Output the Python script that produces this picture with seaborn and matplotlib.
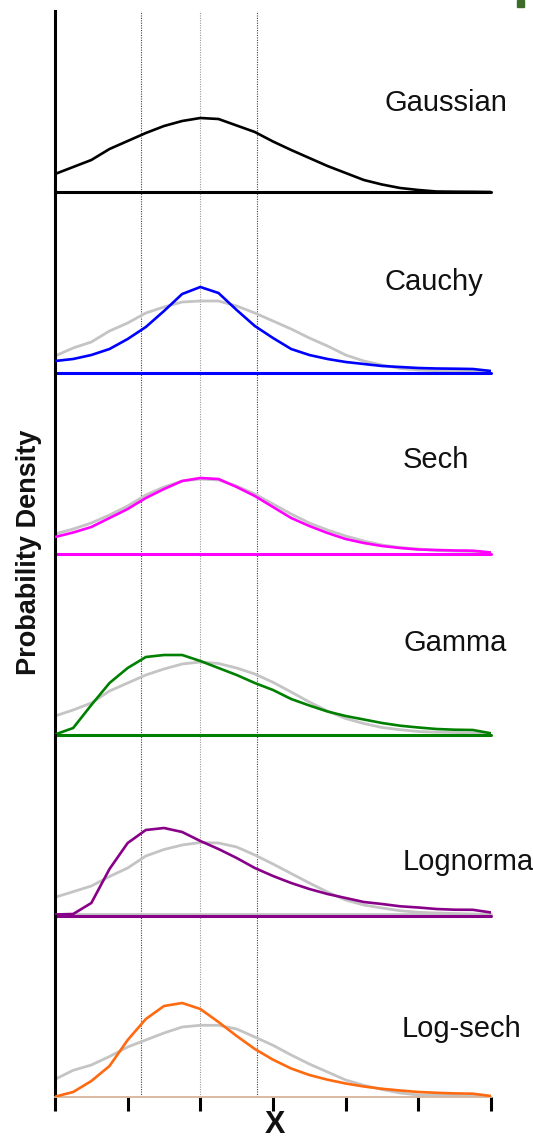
import matplotlib
matplotlib.use("Agg")
import matplotlib.pyplot as plt
from matplotlib.patches import Rectangle
import seaborn as sns

# Sample positions along X (tick units 0..6)
x = [0.0, 0.25, 0.5, 0.75, 1.0, 1.25, 1.5, 1.75, 2.0, 2.25, 2.5, 2.75, 3.0,
     3.25, 3.5, 3.75, 4.0, 4.25, 4.5, 4.75, 5.0, 5.25, 5.5, 5.75, 6.0]

names = ["Gaussian", "Cauchy", "Sech", "Gamma", "Lognormal", "Log-sech"]

gaussian = [18, 25, 32, 43, 51, 59, 66, 71, 74, 73, 66.5, 60, 50.5,
            42, 34, 26, 19, 12, 7.5, 4, 2, 0.5, 0.3, 0.2, 0]
cauchy = [12, 14, 18, 24, 34, 46, 62, 79, 86, 80, 63, 47, 35,
          24, 18, 14, 11, 9, 7, 6, 5, 4.5, 4.3, 4, 2]
sech = [17, 21.5, 27, 36, 45, 56, 65, 73, 76, 75, 67, 58, 47,
        36, 28, 21, 15, 11, 8, 6, 4.5, 4, 3.5, 3.3, 1.5]
gamma = [0.5, 7, 30, 52, 67, 78, 80, 80, 74, 67, 60, 52, 45,
         36, 29.5, 23.5, 19, 15.5, 12, 9.3, 7.5, 6, 5.3, 5, 1.7]
lognormal = [1.5, 2, 13, 47, 73, 86, 88, 84, 75, 67, 58, 48, 40,
             33, 27, 22, 18, 14, 12, 9.7, 8.5, 7, 6.3, 6.2, 3.5]
logsech = [0.3, 5, 16, 31, 57, 78, 91, 94, 88, 75, 61, 48, 37.3,
           28.5, 22, 17.3, 13.5, 10.5, 8.2, 6.5, 5, 4.2, 3.6, 3.3, 1]

# Gaussian fitted to each distribution (grey reference)
ref_cauchy = [17, 25, 31, 42, 50, 60, 66, 71, 72, 72, 67, 60, 52,
              44, 35, 27, 18, 12, 8, 4.5, 3, 2.3, 2, 1.5, 1]
ref_sech = [20, 25, 31, 39, 48, 59, 67, 73, 75, 74, 68, 60, 50,
            40, 31, 24, 18, 13, 9, 6.5, 5, 3.5, 3, 2.5, 1.5]
ref_gamma = [19, 25, 32, 44, 52, 60, 66, 71, 73, 71.5, 67, 61, 52.7,
             43, 33, 24, 16.5, 11.5, 7.5, 5.3, 3.5, 2.8, 2.5, 2, 1.5]
ref_lognormal = [18.7, 24.3, 30, 39.5, 48, 60, 66.5, 71, 73.5, 73, 69, 61, 52,
                 42.5, 33, 24, 16, 11, 8, 5.3, 3.7, 3, 2.5, 2, 1.5]
ref_logsech = [17.7, 26.7, 32, 40.5, 50, 57, 64, 70, 71.7, 71.7, 68, 60, 51.7,
               42, 33, 25, 17, 11.7, 7.5, 4, 2, 1.7, 1.5, 1, 0.5]

curves = [gaussian, cauchy, sech, gamma, lognormal, logsech]
refs = [None, ref_cauchy, ref_sech, ref_gamma, ref_lognormal, ref_logsech]

# Reference positions marked by vertical dotted lines
marks = [1.18, 2.0, 2.78]
x_ticks = [0, 1, 2, 3, 4, 5, 6]

# Label anchor (x, height) inside each panel
label_x = [4.54, 4.54, 4.79, 4.79, 4.79, 4.77]
label_y = [89, 91, 94, 92, 54, 68]

colors = ["#000000", "#0000ff", "#ff00ff", "#008000", "#880088", "#ff6a10"]
mark_colors = ["#444444", "#999999", "#444444"]

sns.set_theme(style="white")
plt.rcParams["font.family"] = ["Liberation Sans", "DejaVu Sans"]

W, H = 533, 1139
fig = plt.figure(figsize=(W / 100, H / 100), dpi=100)
fig.patch.set_facecolor("white")

baselines = [192, 373, 554, 735, 916, 1097]
panel_h = 181
n = len(names)
for i in range(n):
    b = baselines[i]
    ax = fig.add_axes([55 / W, (H - b) / H, 436 / W, panel_h / H])
    ax.patch.set_visible(False)
    ax.set_xlim(0, 6)
    ax.set_ylim(0, panel_h)
    for m, mc in zip(marks, mark_colors):
        ax.axvline(m, color=mc, ls=(0, (1, 1.2)), lw=0.8, zorder=1)
    if refs[i] is not None:
        sns.lineplot(x=x, y=refs[i], ax=ax, color="#c4c4c4", lw=2.0, zorder=2)
    if names[i] == "Lognormal":
        ax.axhline(1.8, color="#c4c4c4", lw=2.0, zorder=2, clip_on=False)
    sns.lineplot(x=x, y=curves[i], ax=ax, color=colors[i], lw=1.9, zorder=3)
    if i < n - 1:
        ax.axhline(0, color=colors[i], lw=2.2, zorder=3, clip_on=False)
    ax.text(label_x[i], label_y[i], names[i], fontsize=21, color="#111111",
            va="center", ha="left", clip_on=False)

    for s in ["top", "right"]:
        ax.spines[s].set_visible(False)
    ax.spines["left"].set_color("black")
    ax.spines["left"].set_linewidth(2.2)
    ax.set_yticks([])
    ax.set_ylabel("")
    ax.set_xlabel("")
    if i < n - 1:
        ax.spines["bottom"].set_visible(False)
        ax.set_xticks([])
    else:
        ax.spines["bottom"].set_color("#d8b49a")
        ax.spines["bottom"].set_linewidth(1.3)
        ax.set_xticks(x_ticks)
        ax.tick_params(axis="x", bottom=True, length=10, width=2.2,
                       color="black", direction="out", labelbottom=False)

fig.text(29 / W, (H - 552) / H, "Probability Density", rotation=90,
         ha="center", va="center", fontsize=19.5, fontweight="bold",
         color="#111111")
fig.text(275 / W, (H - 1125) / H, "X", ha="center", va="center",
         fontsize=22, fontweight="bold", color="#111111")

# small dark corner marker at the top right
fig.patches.append(Rectangle((517 / W, (H - 7) / H), 7 / W, 7 / H,
                             transform=fig.transFigure, color="#3d6b2a"))

fig.savefig("out.png", dpi=100, facecolor="white")
